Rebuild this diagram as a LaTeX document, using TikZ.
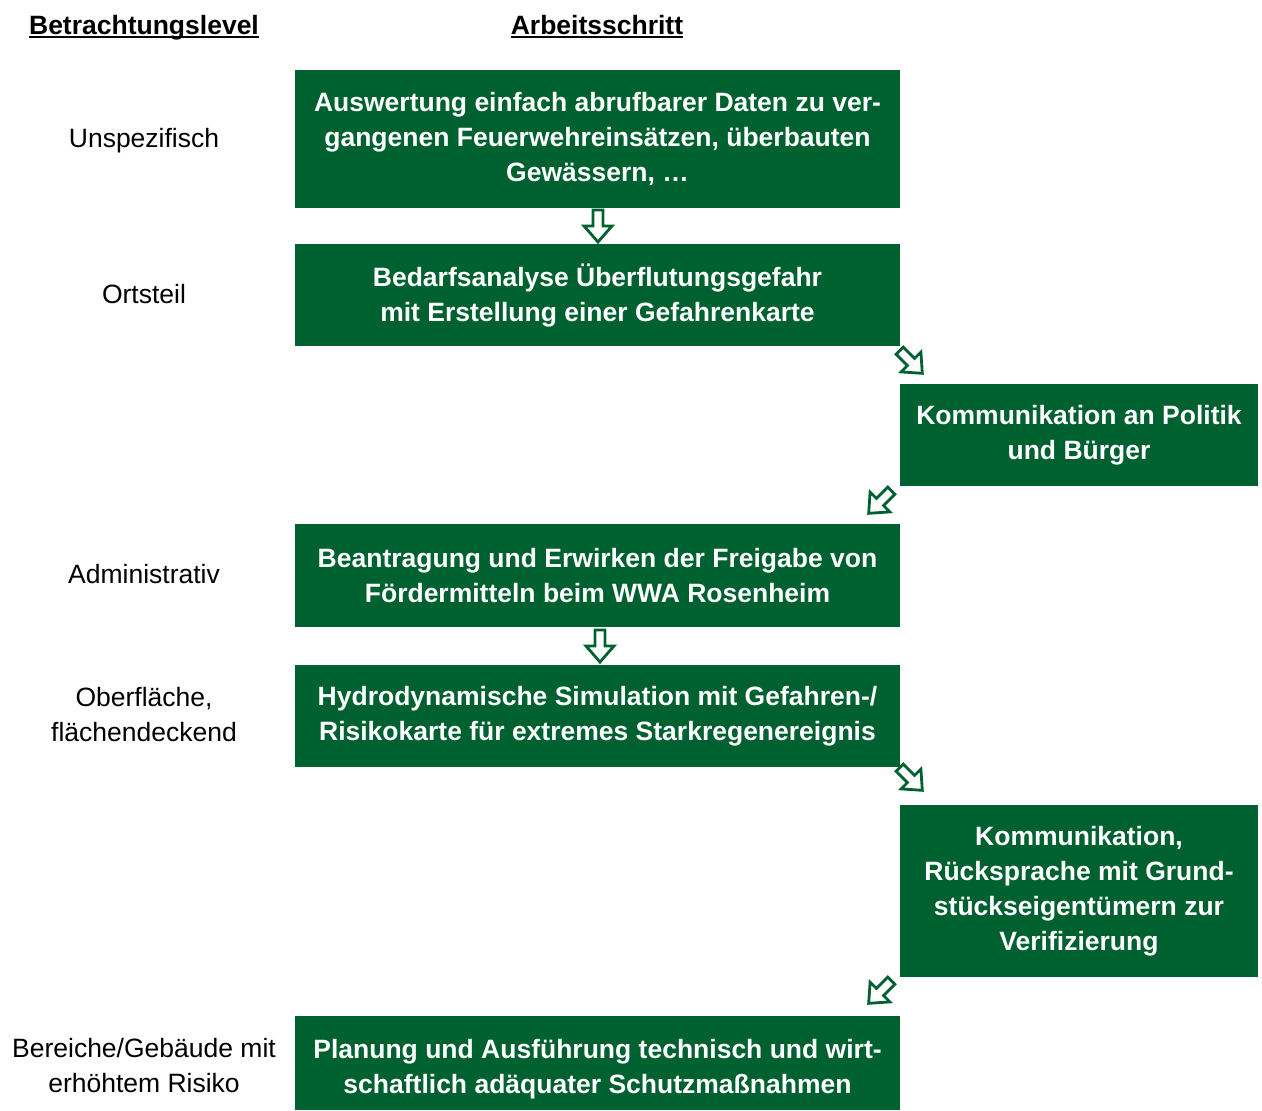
\documentclass[tikz,border=0pt]{standalone}
\usepackage{fontspec}
\setmainfont{Liberation Sans}
\definecolor{dgreen}{RGB}{0,97,48}
\begin{document}
\begin{tikzpicture}[x=1pt,y=-1pt,
  box/.style={fill=dgreen,draw=none,inner sep=0pt,text=white,align=center,
    font=\fontsize{26.5}{35}\selectfont\bfseries},
  widebox/.style={box,minimum width=605pt},
  sidebox/.style={box,minimum width=358pt},
  lvl/.style={align=center,inner sep=0pt,font=\fontsize{26.5}{35}\selectfont},
  head/.style={inner sep=0pt,font=\fontsize{26.5}{35}\selectfont\bfseries},
  barrow/.pic={\draw[dgreen,line width=2.8pt,fill=white,line join=miter]
     (-5,-16) -- (5,-16) -- (5,0) -- (14,0) -- (0,16) -- (-14,0) -- (-5,0) -- cycle;}
]
\useasboundingbox (0,0) rectangle (1262,1111);

% headers
\node[head] (h1) at (144,27.5) {Betrachtungslevel};
\node[head] (h2) at (597,25) {Arbeitsschritt};
\draw[line width=2.6pt] (h1.west |- 0,37) -- (h1.east |- 0,37);
\draw[line width=2.6pt] (h2.west |- 0,37) -- (h2.east |- 0,37);

% level labels
\node[lvl] (l1) at (144,140.5) {Unspezifisch};
\node[lvl] (l2) at (144,294) {Ortsteil};
\node[lvl] (l3) at (144,574) {Administrativ};
\node[lvl] (l4) at (144,714.5) {Oberfläche,\\flächendeckend};
\node[lvl] (l5) at (144,1066) {Bereiche/Gebäude mit\\erhöhtem Risiko};

% boxes
\node[widebox,minimum height=138pt] (b1) at (597.5,139)
  {Auswertung einfach abrufbarer Daten zu ver-\\gangenen Feuerwehreinsätzen, überbauten\\Gewässern, \ldots};
\node[widebox,minimum height=102pt] (b2) at (597.5,295)
  {Bedarfsanalyse Überflutungsgefahr\\mit Erstellung einer Gefahrenkarte};
\node[sidebox,minimum height=102pt] (b3) at (1079,435)
  {Kommunikation an Politik\\und Bürger};
\node[widebox,minimum height=103pt] (b4) at (597.5,575.5)
  {Beantragung und Erwirken der Freigabe von\\Fördermitteln beim WWA Rosenheim};
\node[widebox,minimum height=102pt] (b5) at (597.5,716)
  {Hydrodynamische Simulation mit Gefahren-/\\Risikokarte für extremes Starkregenereignis};
\node[sidebox,minimum height=172pt] (b6) at (1079,891)
  {Kommunikation,\\Rücksprache mit Grund-\\stückseigentümern zur\\Verifizierung};
\node[widebox,minimum height=94pt] (b7) at (597.5,1063)
  {\rule{0pt}{31pt}Planung und Ausführung technisch und wirt-\\schaftlich adäquater Schutzmaßnahmen};

% block arrows between steps
\coordinate (a1) at (598,226);
\coordinate (a2) at (911,362);
\coordinate (a3) at (880,502);
\coordinate (a4) at (600,646);
\coordinate (a5) at (911,779);
\coordinate (a6) at (880,992);
\pic at (a1) {barrow};
\pic[rotate=45] at (a2) {barrow};
\pic[rotate=-45] at (a3) {barrow};
\pic at (a4) {barrow};
\pic[rotate=45] at (a5) {barrow};
\pic[rotate=-45] at (a6) {barrow};
\end{tikzpicture}
\end{document}
